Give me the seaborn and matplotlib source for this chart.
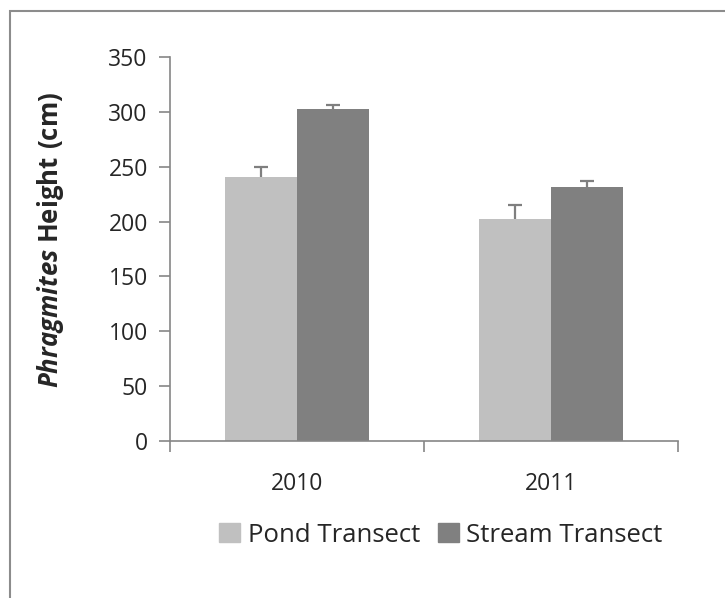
import numpy as np
import pandas as pd
import seaborn as sns
import matplotlib
matplotlib.use('Agg')
import matplotlib.pyplot as plt
from matplotlib.patches import Rectangle

# data
years = ['2010', '2011']
series = ['Pond Transect', 'Stream Transect']
pond_height = [240.5, 202.5]
stream_height = [302.5, 231.5]
pond_err = [9.5, 12.5]
stream_err = [4.0, 5.5]
y_ticks = [0, 50, 100, 150, 200, 250, 300, 350]
colors = ['#c0c0c0', '#808080']

df = pd.DataFrame({
    'year': years * 2,
    'transect': [series[0]] * 2 + [series[1]] * 2,
    'height': pond_height + stream_height,
    'err': pond_err + stream_err,
})

sns.set_style('white')
plt.rcParams['font.family'] = ['Open Sans', 'DejaVu Sans']
plt.rcParams['mathtext.fontset'] = 'custom'
plt.rcParams['mathtext.bfit'] = 'Open Sans:bold:italic'
plt.rcParams['mathtext.bf'] = 'Open Sans:bold'

fig = plt.figure(figsize=(7.25, 5.98), dpi=100)
ax = fig.add_axes([170 / 725, 1 - 441 / 598, 508 / 725, 384 / 598])

sns.barplot(data=df, x='year', y='height', hue='transect', palette=colors,
            width=0.565, gap=0, saturation=1, errorbar=None, ax=ax,
            legend=False, linewidth=0)

# one-sided (upper) error bars on each bar
bars = [p for p in ax.patches if p.get_height() > 0]
for bar in bars:
    cx = bar.get_x() + bar.get_width() / 2
    h = bar.get_height()
    row = df[np.isclose(df['height'], h)].iloc[0]
    line, caps, stems = ax.errorbar(cx, h, yerr=[[0], [row['err']]], fmt='none',
                                    ecolor='#7f7f7f', elinewidth=1.6,
                                    capsize=5, capthick=1.6, zorder=3)
    # hide the lower cap (sits on the bar top), darken the upper one
    caps[0].set_visible(False)
    caps[1].set_color('#1a1a1a')

ax.set_ylim(0, 350)
ax.set_xlim(-0.5, 1.5)
ax.set_yticks(y_ticks)
ax.set_xlabel('')
ax.set_ylabel('')
fig.text(50 / 725, 1 - 240 / 598,
         r'$\mathbfit{Phragmites}$ $\mathbf{Height\ (cm)}$', fontsize=18.5,
         rotation=90, ha='center', va='center')

for s in ['top', 'right']:
    ax.spines[s].set_visible(False)
for s in ['left', 'bottom']:
    ax.spines[s].set_color('#868686')
    ax.spines[s].set_linewidth(1.2)

ax.tick_params(axis='y', which='major', direction='out', length=8, width=1.2,
               color='#868686', labelsize=16.5, left=True, pad=8)
ax.tick_params(axis='x', which='major', length=0, labelsize=16.5, pad=22)
ax.set_xticks([-0.5, 0.5, 1.5], minor=True)
ax.tick_params(axis='x', which='minor', direction='out', length=8, width=1.2,
               color='#868686', bottom=True)

handles = [Rectangle((0, 0), 1, 1, color=c) for c in colors]
fig.legend(handles, series, loc='center', bbox_to_anchor=(441 / 725, 1 - 535 / 598),
           ncol=2, frameon=False, fontsize=18.5, handlelength=0.8, handleheight=0.8,
           handletextpad=0.3, columnspacing=0.7)

# outer chart border (only top and left visible in the reference)
fig.patches.append(Rectangle((10 / 725, -0.1), 1.2, 1.1 - 11 / 598,
                             transform=fig.transFigure, fill=False,
                             edgecolor='#8c8c8c', linewidth=1.5))

fig.savefig('out.png', dpi=100)
